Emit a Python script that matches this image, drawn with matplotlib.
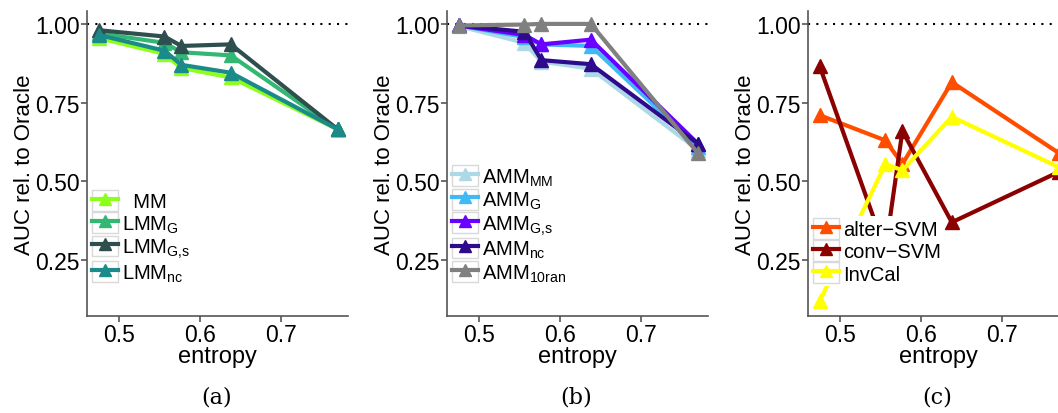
import matplotlib
matplotlib.use("Agg")
import matplotlib.pyplot as plt
from matplotlib.lines import Line2D
from matplotlib.patches import Patch
from matplotlib.legend_handler import HandlerTuple

plt.rcParams['font.family'] = ['Liberation Sans', 'DejaVu Sans']
plt.rcParams['mathtext.fontset'] = 'custom'
plt.rcParams['mathtext.rm'] = 'Liberation Sans'

# entropy values (x axis), shared by all panels
entropy = [0.475, 0.556, 0.577, 0.638, 0.770]

# panel (a)
a_labels = [r'  MM', r'LMM$_\mathregular{G}$', r'LMM$_\mathregular{G{,}s}$', r'LMM$_\mathregular{nc}$']
a_colors = ['#8CFF1A', '#33B874', '#2F4F4F', '#1A8A8A']
a_mm = [0.955, 0.905, 0.860, 0.830, 0.665]
a_lmm_g = [0.970, 0.940, 0.910, 0.900, 0.665]
a_lmm_gs = [0.980, 0.960, 0.930, 0.935, 0.665]
a_lmm_nc = [0.965, 0.915, 0.870, 0.845, 0.665]

# panel (b)
b_labels = [r'AMM$_\mathregular{MM}$', r'AMM$_\mathregular{G}$', r'AMM$_\mathregular{G{,}s}$',
            r'AMM$_\mathregular{nc}$', r'AMM$_\mathregular{10ran}$']
b_colors = ['#ADD8E6', '#40BAF5', '#6A00FF', '#2E0A8C', '#808080']
b_amm_mm = [0.993, 0.940, 0.880, 0.858, 0.600]
b_amm_g = [0.995, 0.958, 0.935, 0.930, 0.610]
b_amm_gs = [0.995, 0.965, 0.935, 0.950, 0.620]
b_amm_nc = [0.995, 0.975, 0.885, 0.872, 0.620]
b_amm_10ran = [0.995, 0.998, 1.000, 1.000, 0.590]

# panel (c)
c_labels = ['alter\u2212SVM', 'conv\u2212SVM', 'InvCal']
c_colors = ['#FF4D00', '#8B0000', '#FFFF00']
c_alter = [0.710, 0.630, 0.555, 0.815, 0.590]
c_conv = [0.865, 0.280, 0.660, 0.370, 0.530]
c_invcal = [0.120, 0.555, 0.535, 0.705, 0.545]

panels = [
    ([a_mm, a_lmm_g, a_lmm_gs, a_lmm_nc], a_labels, a_colors, '(a)'),
    ([b_amm_mm, b_amm_g, b_amm_gs, b_amm_nc, b_amm_10ran], b_labels, b_colors, '(b)'),
    ([c_alter, c_conv, c_invcal], c_labels, c_colors, '(c)'),
]

fig = plt.figure(figsize=(10.58, 4.14), dpi=100)
lefts = [0.0822, 0.4225, 0.7637]

for left, (series, labels, colors, cap) in zip(lefts, panels):
    ax = fig.add_axes([left, 0.234, 0.247, 0.737])
    ax.axhline(1.0, color='black', lw=1.5, ls=(0, (1, 3)), zorder=1)
    handles = []
    for vals, lab, col in zip(series, labels, colors):
        ax.plot(entropy, vals, color=col, lw=3, marker='^', ms=10.5, zorder=2)
        ln = Line2D([], [], color=col, lw=3, marker='^', ms=9)
        box = Patch(facecolor='white', edgecolor='#D9D9D9', lw=1)
        handles.append((box, ln))
    ax.set_xlim(0.4605, 0.783)
    ax.set_ylim(0.072, 1.041)
    ax.set_xticks([0.5, 0.6, 0.7])
    ax.set_xticklabels(['0.5', '0.6', '0.7'])
    ax.set_yticks([0.25, 0.5, 0.75, 1.0])
    ax.set_yticklabels(['0.25', '0.50', '0.75', '1.00'])
    for s in ['top', 'right']:
        ax.spines[s].set_visible(False)
    for s in ['left', 'bottom']:
        ax.spines[s].set_color('#555555')
        ax.spines[s].set_linewidth(1.2)
    ax.tick_params(labelsize=16.5, length=4, width=1.2, color='#555555', pad=1, labelcolor='black')
    ax.set_xlabel('entropy', fontsize=17, labelpad=-1)
    ax.set_ylabel('AUC rel. to Oracle', fontsize=16, labelpad=0)
    leg = ax.legend(handles, labels, loc='lower left', bbox_to_anchor=(0.01, 0.1),
                    handler_map={tuple: HandlerTuple(ndivide=1)},
                    fontsize=14.5, handlelength=1.3, handleheight=1.2,
                    handletextpad=0.2, labelspacing=0.05, borderpad=0.1,
                    borderaxespad=0, frameon=True, fancybox=False)
    leg.get_frame().set_facecolor('white')
    leg.get_frame().set_edgecolor('none')
    leg.get_frame().set_alpha(1)
    leg.set_zorder(5)
    fig.text(left + 0.247 / 2 - 0.001, 0.04, cap, ha='center', va='center',
             fontsize=16, family='DejaVu Serif')

fig.savefig('out.png', dpi=100)
